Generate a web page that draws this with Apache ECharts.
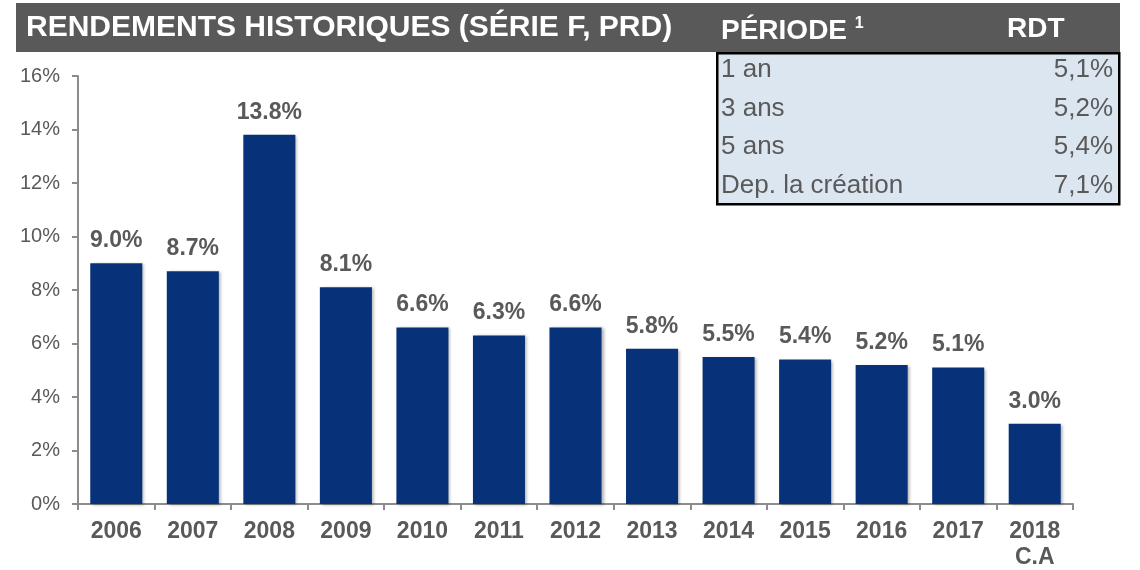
<!DOCTYPE html>
<html>
<head>
<meta charset="utf-8">
<script src="https://cdn.jsdelivr.net/npm/echarts@6/dist/echarts.min.js"></script>
<style>
  html, body { margin: 0; padding: 0; background: #fff; }
  #chart { width: 1140px; height: 570px; }
</style>
</head>
<body>
<div id="chart"></div>
<script>
const years = ["2006", "2007", "2008", "2009", "2010", "2011", "2012", "2013", "2014", "2015", "2016", "2017", "2018\nC.A"];
const returns = [9.0, 8.7, 13.8, 8.1, 6.6, 6.3, 6.6, 5.8, 5.5, 5.4, 5.2, 5.1, 3.0];
const yTicks = [0, 2, 4, 6, 8, 10, 12, 14, 16];
const periods = ["1 an", "3 ans", "5 ans", "Dep. la création"];
const periodReturns = ["5,1%", "5,2%", "5,4%", "7,1%"];

const grey = "#595959";
const font = "'Liberation Sans', Arial, sans-serif";

const chart = echarts.init(document.getElementById("chart"));

// table rows (period / return)
const tableRows = [];
periods.forEach((p, i) => {
  const cy = 71 + i * 38.5;
  tableRows.push({
    type: "text", left: 721, top: cy - 14, z: 5,
    style: { text: p, fill: grey, font: "26px " + font },
  });
  tableRows.push({
    type: "text", right: 1140 - 1113, top: cy - 14, z: 5,
    style: { text: periodReturns[i], fill: grey, font: "26px " + font },
  });
});

const option = {
  backgroundColor: "#fff",
  animation: false,
  grid: { left: 78, right: 67, top: 76, bottom: 66, outerBoundsMode: "none" },
  xAxis: {
    type: "category",
    data: years,
    axisLine: { lineStyle: { color: "#8c8c8c", width: 2 } },
    axisTick: { show: true, length: 6, lineStyle: { color: "#8c8c8c", width: 2 } },
    axisLabel: {
      color: grey, fontFamily: font, fontWeight: "bold", fontSize: 23,
      lineHeight: 26, margin: 15, interval: 0,
    },
  },
  yAxis: {
    type: "value",
    min: yTicks[0],
    max: yTicks[yTicks.length - 1],
    interval: 2,
    axisLine: { show: true, lineStyle: { color: "#8c8c8c", width: 2 } },
    axisTick: { show: true, length: 6, lineStyle: { color: "#8c8c8c", width: 2 } },
    axisLabel: { color: grey, fontFamily: font, fontSize: 20, margin: 18, formatter: "{value}%" },
    splitLine: { show: false },
  },
  series: [
    {
      type: "bar",
      data: returns,
      barCategoryGap: "32%",
      itemStyle: {
        color: "#07327a",
        shadowColor: "rgba(0,0,0,0.3)",
        shadowBlur: 3,
        shadowOffsetX: 2,
        shadowOffsetY: 1,
      },
      label: {
        show: true,
        position: "top",
        distance: 11,
        color: grey,
        fontFamily: font,
        fontWeight: "bold",
        fontSize: 23,
        formatter: (p) => p.value.toFixed(1) + "%",
      },
    },
  ],
  graphic: [
    {
      type: "rect", left: 716, top: 52, z: 1,
      shape: { width: 402, height: 151 },
      style: { fill: "#dce6f0", stroke: "#000", lineWidth: 2.5 },
    },
    {
      type: "rect", left: 16, top: 3, z: 3,
      shape: { width: 1104, height: 49 },
      style: { fill: "#595959" },
    },
    {
      type: "text", left: 26, top: 13, z: 5,
      style: { text: "RENDEMENTS HISTORIQUES (SÉRIE F, PRD)", fill: "#fff", font: "bold 30px " + font },
    },
    {
      type: "text", left: 721, top: 16, z: 5,
      style: {
        text: "PÉRIODE {sup|1}",
        fill: "#fff",
        font: "bold 28px " + font,
        rich: { sup: { fill: "#fff", font: "bold 16px " + font, verticalAlign: "top", padding: [0, 0, 14, 0] } },
      },
    },
    {
      type: "text", left: 1007, top: 15, z: 5,
      style: { text: "RDT", fill: "#fff", font: "bold 28px " + font },
    },
    ...tableRows,
  ],
};

chart.setOption(option);
</script>
</body>
</html>
